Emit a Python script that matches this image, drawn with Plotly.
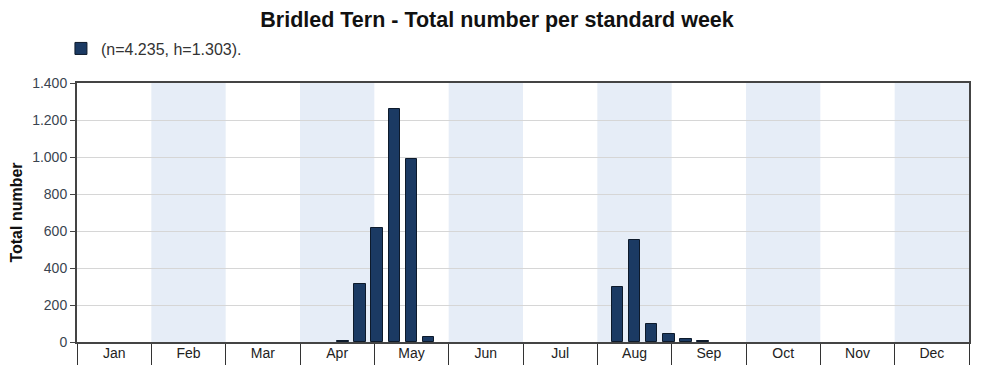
import plotly.graph_objects as go

months = ["Jan", "Feb", "Mar", "Apr", "May", "Jun", "Jul", "Aug", "Sep", "Oct", "Nov", "Dec"]
weeks = list(range(1, 53))
totals = [None] * 52
observed = {16: 7, 17: 316, 18: 617, 19: 1258, 20: 990, 21: 28,
            32: 300, 33: 553, 34: 100, 35: 43, 36: 15, 37: 8}
for w, v in observed.items():
    totals[w - 1] = v
y_ticks = [0, 200, 400, 600, 800, 1000, 1200, 1400]
legend_label = "(n=4.235, h=1.303)."
title_text = "Bridled Tern - Total number per standard week"

# week position in month units
xpos = [(w - 0.5) * 12 / 52 for w in weeks]

fig = go.Figure()
fig.add_trace(go.Bar(
    x=xpos, y=totals, width=12 / 52 * 0.68,
    marker=dict(color="#1b3a63", line=dict(color="#0d1a2b", width=1)),
    name=legend_label, showlegend=True,
))

shapes = []
for i in range(1, 12, 2):
    shapes.append(dict(type="rect", xref="x", yref="paper", x0=i, x1=i + 1, y0=0, y1=1,
                       fillcolor="#e6edf7", line=dict(width=0), layer="below"))

fig.update_layout(
    width=984, height=374,
    margin=dict(l=69, r=23, t=75, b=40, autoexpand=False),
    paper_bgcolor="white", plot_bgcolor="white",
    separators=",.",
    font=dict(family="Liberation Sans, Arial, sans-serif", size=14, color="#333"),
    title=dict(text="<b>" + title_text + "</b>", x=0.497, xanchor="center", y=0.99, yanchor="top",
               font=dict(size=21.5, color="#111")),
    showlegend=True,
    legend=dict(x=-0.018, y=1.133, xanchor="left", yanchor="middle", orientation="h",
                font=dict(size=16, color="#333"), bgcolor="rgba(0,0,0,0)"),
    shapes=shapes,
    bargap=0,
    xaxis=dict(range=[0, 12], tickmode="array", tickvals=[i + 0.5 for i in range(12)], ticktext=months,
               ticks="", showgrid=False, zeroline=False, showline=True, linecolor="#444", linewidth=2,
               mirror=True, tickfont=dict(size=14, color="#222"), automargin=False,
               ticklabelstandoff=-3,
               minor=dict(tickmode="array", tickvals=list(range(13)), ticks="outside", ticklen=21,
                          tickcolor="#333", tickwidth=1, showgrid=False)),
    yaxis=dict(range=[0, 1400], tickmode="array", tickvals=y_ticks, tickformat=",d",
               ticks="outside", ticklen=5, tickcolor="#444", showgrid=True, gridcolor="#d6d6d6",
               gridwidth=1, zeroline=False, showline=True, linecolor="#444", linewidth=2, mirror=True,
               tickfont=dict(size=14, color="#3a4450"), automargin=False,
               title=dict(text="<b>Total number</b>", font=dict(size=16, color="#111"), standoff=7)),
)

fig.write_html("out.html")
